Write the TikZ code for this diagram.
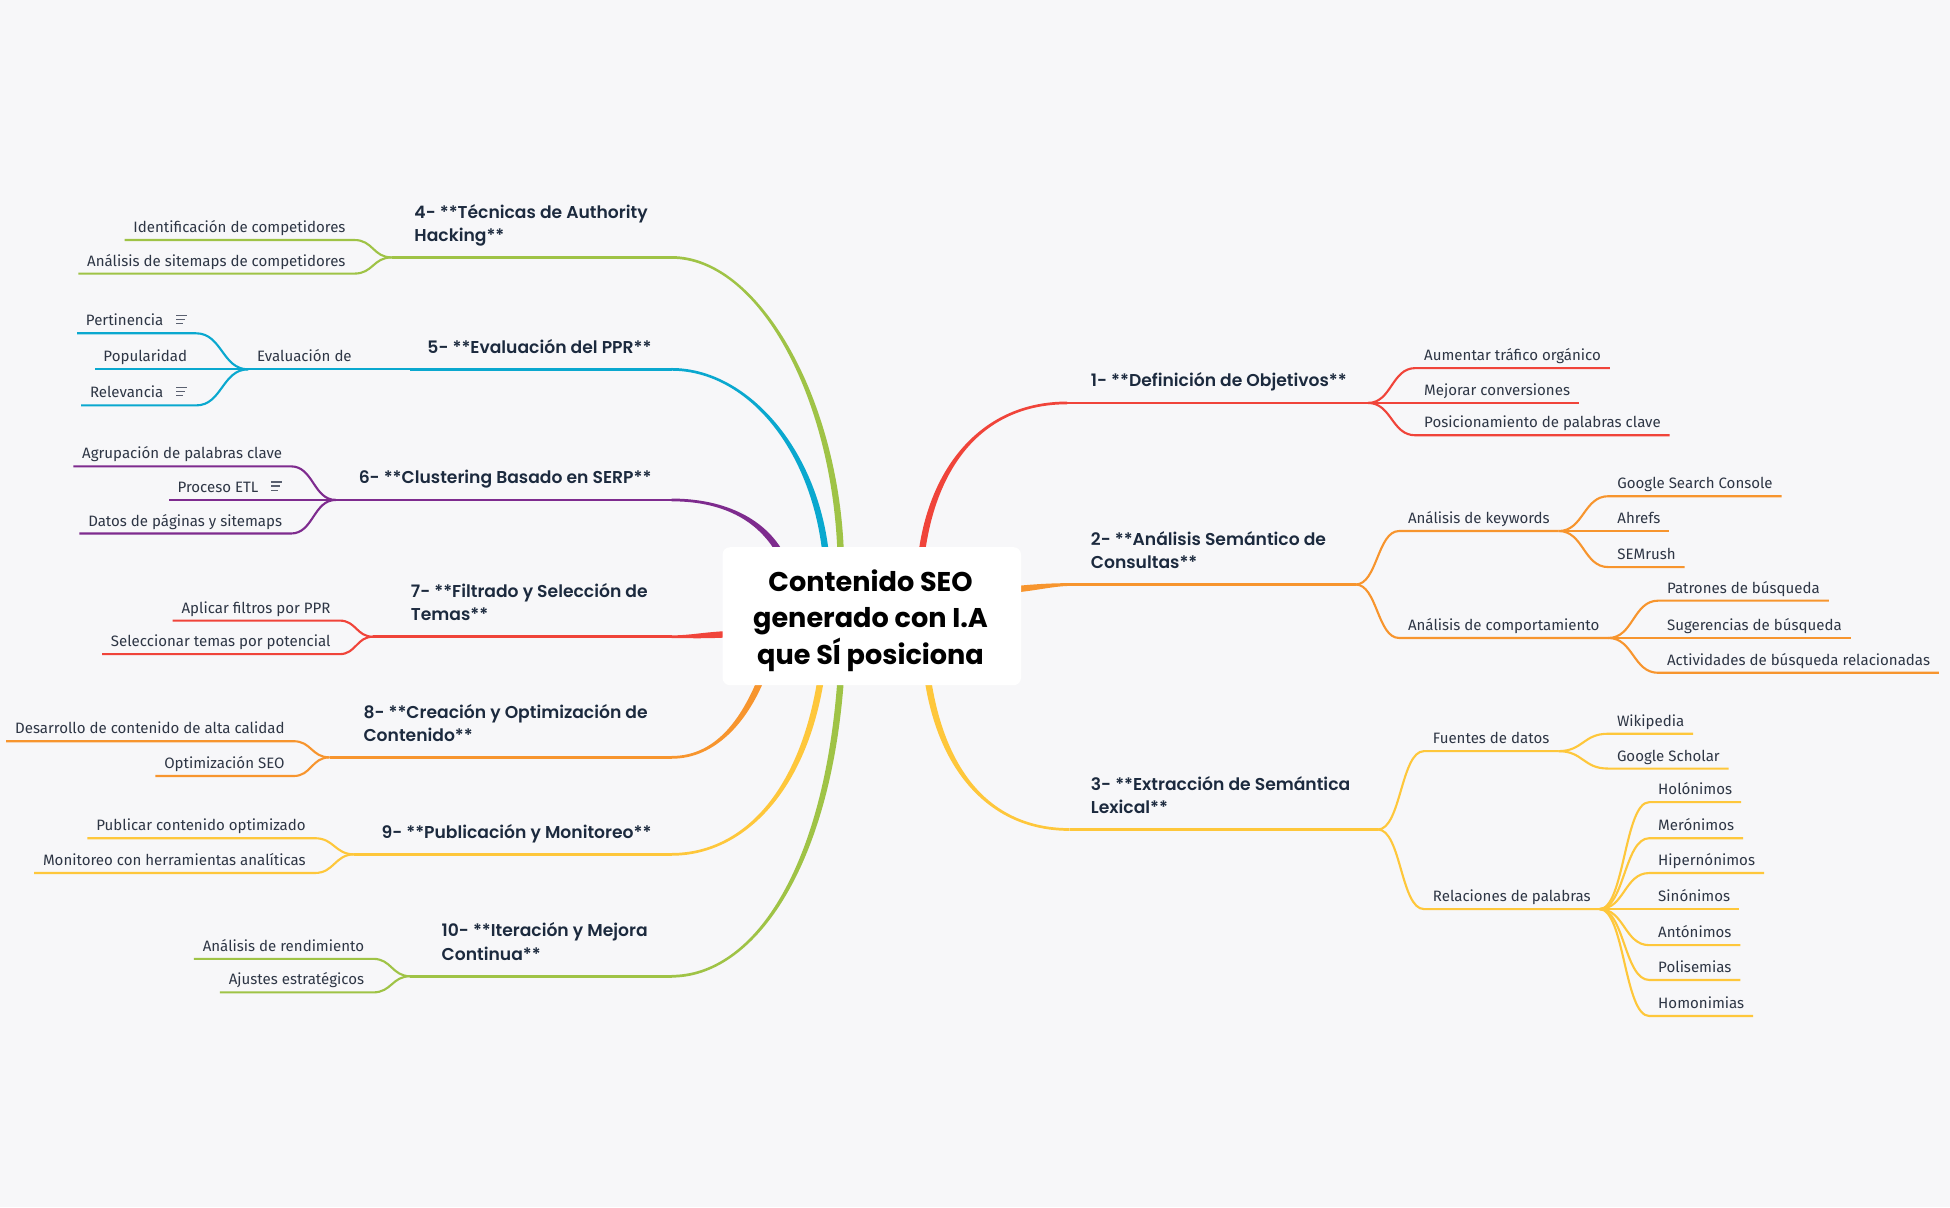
\documentclass[tikz,border=0pt]{standalone}
\usepackage{fontspec}
\setmainfont{Fira Sans}
\IfFontExistsTF{Poppins SemiBold}%
 {\newfontfamily\topicfontraw{Poppins SemiBold}\newcommand\topicsel{\topicfontraw}}%
 {\newfontfamily\topicfontraw{Poppins}\newcommand\topicsel{\topicfontraw\bfseries}}
\newfontfamily\rootfontraw{Poppins}
\usetikzlibrary{calc}
\definecolor{bgc}{HTML}{F7F7F9}
\definecolor{cred}{HTML}{F0443A}
\definecolor{corange}{HTML}{F7952E}
\definecolor{cyellow}{HTML}{FEC73B}
\definecolor{cgreen}{HTML}{9FC346}
\definecolor{ccyan}{HTML}{0AA8CF}
\definecolor{cpurple}{HTML}{7E2B8E}
\definecolor{topictext}{HTML}{1C2A3E}
\definecolor{kidtext}{HTML}{2E3645}
\definecolor{icongray}{HTML}{5A6070}
\tikzset{
  kid/.style={font=\fontsize{12.1}{14.5}\selectfont, text=kidtext, inner xsep=7pt, inner ysep=2pt},
  kidline/.style={line width=1.7pt},
  topicR/.style={font=\topicsel\fontsize{13.8}{18.8}\selectfont, text=topictext, align=left, inner sep=0pt, anchor=south west},
  topicL/.style={font=\topicsel\fontsize{13.8}{18.8}\selectfont, text=topictext, align=left, inner sep=0pt, anchor=south east},
  rootbox/.style={fill=white, rounded corners=6pt, minimum width=240pt, minimum height=111pt, inner sep=0pt},
  rootlabel/.style={inner sep=0pt, align=center, text=black, font=\rootfontraw\bfseries\fontsize{21.8}{29.3}\selectfont},
  iconline/.style={line width=1.1pt, icongray}
}
% tapered main branch: colour, start, c1, c2, end, branch point
\newcommand\mainbranch[6]{%
  \path ($(#2)!2.6pt!90:(#3)$) coordinate (tA0) ($(#2)!2.6pt!-90:(#3)$) coordinate (tB0)
        ($(#5)!1.1pt!-90:(#4)$) coordinate (tA1) ($(#5)!1.1pt!90:(#4)$) coordinate (tB1);
  \fill[#1] (tA0) .. controls ($(#3)+(tA0)-(#2)$) and ($(#4)+(tA1)-(#5)$) .. (tA1)
     -- (tB1) .. controls ($(#4)+(tB1)-(#5)$) and ($(#3)+(tB0)-(#2)$) .. (tB0) -- cycle;
  \draw[#1, line width=2.2pt] (#5) -- (#6);
}
% right child: colour, branch, gap, underline y, name, text
\newcommand\kidR[6]{%
  \path ($(#2)+(#3,0)$) coordinate (#5-x) (0,#4) coordinate (#5-y);
  \coordinate (#5-s) at (#5-x |- #5-y);
  \node[kid, anchor=base west] (#5) at ($(#5-s)+(0,-6)$) {#6};
  \draw[kidline, #1] (#2) .. controls +(0.5*#3,0) and +(-0.5*#3,0) .. (#5-s) -- (#5.east |- #5-s);
}
% left child
\newcommand\kidL[6]{%
  \path ($(#2)+(-#3,0)$) coordinate (#5-x) (0,#4) coordinate (#5-y);
  \coordinate (#5-s) at (#5-x |- #5-y);
  \node[kid, anchor=base east] (#5) at ($(#5-s)+(0,-6)$) {#6};
  \draw[kidline, #1] (#2) .. controls +(-0.5*#3,0) and +(0.5*#3,0) .. (#5-s) -- (#5.west |- #5-s);
}
\newcommand\iconspace{\makebox[19pt]{}}
\newcommand\noteicon[1]{%
  \draw[iconline] ($(#1.base east)+(-16,-8.4)$) -- +(9,0)
                  ($(#1.base east)+(-16,-5.1)$) -- +(7.2,0)
                  ($(#1.base east)+(-16,-1.8)$) -- +(5.4,0);
}
\begin{document}
\begin{tikzpicture}[x=1pt,y=-1pt]
\useasboundingbox (0,0) rectangle (1568,970.6);
\fill[bgc] (0,0) rectangle (1568,970.6);

% ---- coordinates of main branches
\coordinate (s1) at (741,446);  \coordinate (e1) at (858,324);  \coordinate (b1) at (1100,324);
\coordinate (s2) at (815,474);  \coordinate (e2) at (862,470);  \coordinate (b2) at (1090,470);
\coordinate (s3) at (746,546);  \coordinate (e3) at (860,667);  \coordinate (b3) at (1108,667);
\coordinate (s4) at (676,446);  \coordinate (e4) at (540,207);  \coordinate (b4) at (315,207);
\coordinate (s5) at (664,446);  \coordinate (e5) at (540,297);  \coordinate (b5) at (330,297);
\coordinate (s6) at (628,446);  \coordinate (e6) at (540,402);  \coordinate (b6) at (270,402);
\coordinate (s7) at (585,510);  \coordinate (e7) at (540,512);  \coordinate (b7) at (300,512);
\coordinate (s8) at (612,546);  \coordinate (e8) at (540,609);  \coordinate (b8) at (265,609);
\coordinate (s9) at (660,546);  \coordinate (e9) at (540,687);  \coordinate (b9) at (285,687);
\coordinate (s10) at (676,546); \coordinate (e10) at (540,785); \coordinate (b10) at (330,785);

\mainbranch{cred}{s1}{750,375}{790,324}{e1}{b1}
\mainbranch{corange}{s2}{835,472}{848,470}{e2}{b2}
\mainbranch{cyellow}{s3}{758,625}{800,667}{e3}{b3}
\mainbranch{cgreen}{s4}{672,320}{610,207}{e4}{b4}
\mainbranch{ccyan}{s5}{655,360}{600,297}{e5}{b5}
\mainbranch{cpurple}{s6}{614,420}{585,402}{e6}{b6}
\mainbranch{cred}{s7}{565,511}{555,512}{e7}{b7}
\mainbranch{corange}{s8}{598,580}{575,609}{e8}{b8}
\mainbranch{cyellow}{s9}{645,640}{595,687}{e9}{b9}
\mainbranch{cgreen}{s10}{665,700}{605,785}{e10}{b10}

% ---- main topics
\node[topicR] (t1) at (877,316.5) {1- **Definición de Objetivos**\strut};
\node[topicR] (t2) at (877,463) {2- **Análisis Semántico de\\Consultas**\strut};
\node[topicR] (t3) at (877,660) {3- **Extracción de Semántica\\Lexical**\strut};
\node[topicL] (t4) at (521,200) {4- **Técnicas de Authority\\Hacking**\strut};
\node[topicL] (t5) at (524,290) {5- **Evaluación del PPR**\strut};
\node[topicL] (t6) at (524,395) {6- **Clustering Basado en SERP**\strut};
\node[topicL] (t7) at (521,505) {7- **Filtrado y Selección de\\Temas**\strut};
\node[topicL] (t8) at (521,602) {8- **Creación y Optimización de\\Contenido**\strut};
\node[topicL] (t9) at (524,680) {9- **Publicación y Monitoreo**\strut};
\node[topicL] (t10) at (521,778) {10- **Iteración y Mejora\\Continua**\strut};

% ---- 1
\kidR{cred}{b1}{38}{296}{a1}{Aumentar tráfico orgánico}
\kidR{cred}{b1}{38}{324}{a2}{Mejorar conversiones}
\kidR{cred}{b1}{38}{350}{a3}{Posicionamiento de palabras clave}
% ---- 2
\kidR{corange}{b2}{35}{427}{k2a}{Análisis de keywords}
\kidR{corange}{b2}{35}{513}{k2b}{Análisis de comportamiento}
\coordinate (k2a-b) at (k2a.east |- k2a-s);
\coordinate (k2b-b) at (k2b.east |- k2b-s);
\kidR{corange}{k2a-b}{40}{399}{g1}{Google Search Console}
\kidR{corange}{k2a-b}{40}{427}{g2}{Ahrefs}
\kidR{corange}{k2a-b}{40}{456}{g3}{SEMrush}
\kidR{corange}{k2b-b}{40}{483}{g4}{Patrones de búsqueda}
\kidR{corange}{k2b-b}{40}{513}{g5}{Sugerencias de búsqueda}
\kidR{corange}{k2b-b}{40}{541}{g6}{Actividades de búsqueda relacionadas}
% ---- 3
\kidR{cyellow}{b3}{37}{604}{k3a}{Fuentes de datos}
\kidR{cyellow}{b3}{37}{731}{k3b}{Relaciones de palabras}
\coordinate (k3a-b) at (k3a.east |- k3a-s);
\coordinate (k3b-b) at (k3b.east |- k3b-s);
\kidR{cyellow}{k3a-b}{40}{590}{g7}{Wikipedia}
\kidR{cyellow}{k3a-b}{40}{618}{g8}{Google Scholar}
\kidR{cyellow}{k3b-b}{40}{645}{h1}{Holónimos}
\kidR{cyellow}{k3b-b}{40}{674}{h2}{Merónimos}
\kidR{cyellow}{k3b-b}{40}{702}{h3}{Hipernónimos}
\kidR{cyellow}{k3b-b}{40}{731}{h4}{Sinónimos}
\kidR{cyellow}{k3b-b}{40}{760}{h5}{Antónimos}
\kidR{cyellow}{k3b-b}{40}{788}{h6}{Polisemias}
\kidR{cyellow}{k3b-b}{40}{817}{h7}{Homonimias}
% ---- 4
\kidL{cgreen}{b4}{30}{193}{c4a}{Identificación de competidores}
\kidL{cgreen}{b4}{30}{220}{c4b}{Análisis de sitemaps de competidores}
% ---- 5
\kidL{ccyan}{b5}{40}{297}{k5}{Evaluación de}
\coordinate (k5-b) at (k5.west |- k5-s);
\kidL{ccyan}{k5-b}{42}{268}{p1}{Pertinencia\iconspace}
\kidL{ccyan}{k5-b}{42}{297}{p2}{Popularidad}
\kidL{ccyan}{k5-b}{42}{326}{p3}{Relevancia\iconspace}
\noteicon{p1}
\noteicon{p3}
% ---- 6
\kidL{cpurple}{b6}{36}{375}{q1}{Agrupación de palabras clave}
\kidL{cpurple}{b6}{36}{402}{q2}{Proceso ETL\iconspace}
\kidL{cpurple}{b6}{36}{429}{q3}{Datos de páginas y sitemaps}
\noteicon{q2}
% ---- 7
\kidL{cred}{b7}{27}{499}{c7a}{Aplicar filtros por PPR}
\kidL{cred}{b7}{27}{526}{c7b}{Seleccionar temas por potencial}
% ---- 8
\kidL{corange}{b8}{29}{596}{c8a}{Desarrollo de contenido de alta calidad}
\kidL{corange}{b8}{29}{624}{c8b}{Optimización SEO}
% ---- 9
\kidL{cyellow}{b9}{32}{674}{c9a}{Publicar contenido optimizado}
\kidL{cyellow}{b9}{32}{702}{c9b}{Monitoreo con herramientas analíticas}
% ---- 10
\kidL{cgreen}{b10}{30}{771}{c10a}{Análisis de rendimiento}
\kidL{cgreen}{b10}{30}{798}{c10b}{Ajustes estratégicos}

% ---- root on top
\node[rootbox] (root) at (701,495.5) {};
\node[rootlabel] (rootlabel) at ($(root.center)+(-1,3.5)$) {Contenido SEO\\generado con I.A\\que SÍ posiciona};
\end{tikzpicture}
\end{document}
